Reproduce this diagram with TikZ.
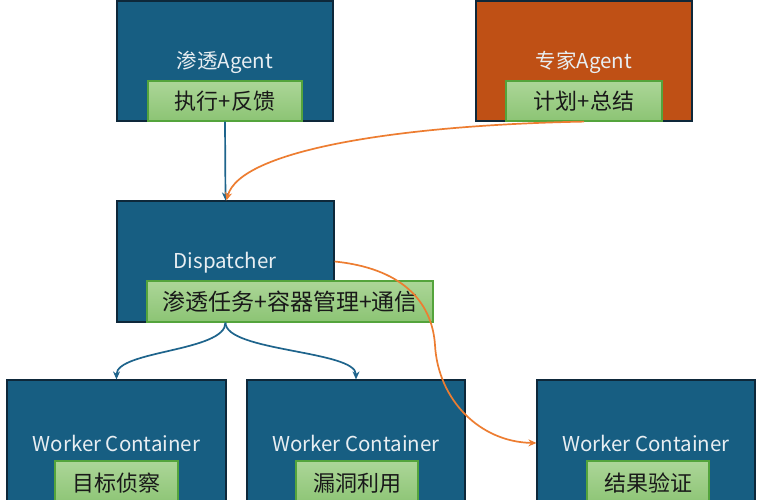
\documentclass[tikz,border=0pt]{standalone}
\usepackage{fontspec}
\setmainfont{Noto Sans CJK SC}
\usetikzlibrary{arrows.meta}
\definecolor{boxblue}{RGB}{23,94,130}
\definecolor{boxorange}{RGB}{191,80,21}
\definecolor{edgedark}{RGB}{14,40,58}
\definecolor{greentop}{RGB}{172,214,152}
\definecolor{greenbot}{RGB}{140,196,116}
\definecolor{greenedge}{RGB}{84,164,60}
\definecolor{arrorange}{RGB}{237,125,49}
\definecolor{arrblue}{RGB}{30,100,140}
\definecolor{titlewhite}{RGB}{232,238,242}
\definecolor{lbltext}{RGB}{25,25,25}
\begin{document}
\begin{tikzpicture}[x=1pt,y=-1pt,
  bigbox/.style={draw=edgedark, line width=1.2pt, fill=boxblue, inner sep=0pt},
  orangebox/.style={bigbox, fill=boxorange},
  titletext/.style={text=titlewhite, font=\fontsize{20.5pt}{24pt}\selectfont, inner sep=0pt},
  greenlbl/.style={draw=greenedge, line width=1.2pt, top color=greentop, bottom color=greenbot,
     text=lbltext, font=\fontsize{22pt}{24pt}\selectfont, inner sep=0pt},
  bluearrow/.style={draw=arrblue, line width=1.7pt, -{Stealth[length=8pt,width=7pt]}},
  orangearrow/.style={draw=arrorange, line width=1.7pt, -{Stealth[length=8pt,width=7pt]}}
]
\useasboundingbox (0,0) rectangle (764,499);
\clip (0,0) rectangle (764,499);
\fill[white] (0,0) rectangle (764,499);

% top row
\node[bigbox, minimum width=216pt, minimum height=120pt] (pen) at (225,61) {};
\node[titletext] (pent) at (225,62) {渗透Agent};
\node[greenlbl, minimum width=154pt, minimum height=40pt] (penl) at (225,101) {执行+反馈};

\node[orangebox, minimum width=216pt, minimum height=120pt] (exp) at (584,61) {};
\node[titletext] (expt) at (584,62) {专家Agent};
\node[greenlbl, minimum width=156pt, minimum height=40pt] (expl) at (584,101) {计划+总结};

% dispatcher
\node[bigbox, minimum width=217pt, minimum height=121pt] (disp) at (225.5,261.5) {};
\node[titletext] (dispt) at (225,263) {Dispatcher};
\node[greenlbl, minimum width=286pt, minimum height=41pt, font=\fontsize{23pt}{26pt}\selectfont] (displ) at (290,301.5) {渗透任务+容器管理+通信};

% workers
\node[bigbox, minimum width=219pt, minimum height=136pt] (w1) at (116.5,448) {};
\node[titletext] (w1t) at (116.5,443) {Worker Container};
\node[greenlbl, minimum width=123pt, minimum height=44pt] (w1l) at (116.5,483) {目标侦察};

\node[bigbox, minimum width=218pt, minimum height=136pt] (w2) at (356,448) {};
\node[titletext] (w2t) at (356,443) {Worker Container};
\node[greenlbl, minimum width=122pt, minimum height=44pt] (w2l) at (357,483) {漏洞利用};

\node[bigbox, minimum width=218pt, minimum height=136pt] (w3) at (646,448) {};
\node[titletext] (w3t) at (646,443) {Worker Container};
\node[greenlbl, minimum width=122pt, minimum height=44pt] (w3l) at (648,483) {结果验证};

% connectors
\draw[bluearrow] (penl.south) -- (disp.north);
\draw[orangearrow] (expl.south) .. controls (400,125) and (240,150) .. ([xshift=1pt]disp.north);
\coordinate (dmid) at (435,345);
\draw[orangearrow] (disp.east) .. controls (400,268) and (432,300) .. (dmid)
   .. controls (438,400) and (480,442) .. (w3.west |- w3t.center);
\draw[bluearrow] (disp.south) .. controls +(0,29) and +(0,-29) .. (w1.north);
\draw[bluearrow] (disp.south) .. controls +(0,29) and +(0,-29) .. (w2.north);
\end{tikzpicture}
\end{document}
